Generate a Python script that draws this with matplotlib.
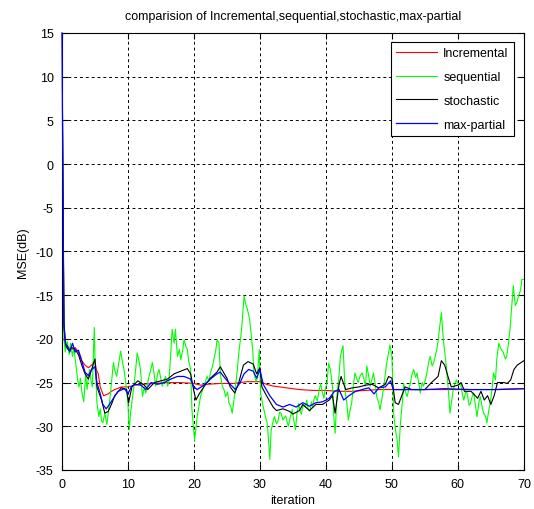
import numpy as np
import matplotlib.pyplot as plt

plt.rcParams['font.family'] = ['Liberation Sans', 'DejaVu Sans']
plt.rcParams['axes.unicode_minus'] = False

# Incremental (red)
inc_x = [0, 0.15, 0.3, 0.5, 1, 1.5, 2, 2.5, 3, 3.5, 4, 4.5, 5, 5.2, 5.5, 5.8, 6.3, 7, 7.5, 8, 9, 10,
         11, 12, 14, 16, 18, 20, 21, 22, 24, 26, 28, 30, 31, 32, 34, 36, 38, 40, 42, 44, 46, 48, 50,
         55, 60, 65, 70]
inc_y = [15, -3, -19, -20.5, -21, -21.2, -21, -21.5, -22.5, -23, -23.3, -23, -22.5, -23.5, -24, -25.5,
         -26.5, -26.3, -26, -25.8, -25.5, -25.5, -25.3, -25.2, -25.1, -25.0, -25.0, -25.1, -25.3, -25.2,
         -25.1, -25.1, -24.9, -24.9, -25.2, -25.4, -25.6, -25.8, -25.9, -25.9, -26.0, -26.0, -25.9,
         -25.8, -25.8, -25.8, -25.8, -25.8, -25.7]

# sequential (green)
seq_x = [0, 0.15, 0.3, 0.5, 0.65, 0.8, 1.1, 1.3, 1.6, 1.8, 2.0, 2.2, 2.4, 2.6, 2.8, 3.0, 3.3, 3.6, 3.8,
         4.0, 4.2, 4.4, 4.6, 4.9, 5.0, 5.3, 5.6, 5.8, 6.0, 6.2, 6.5, 6.8, 7.0, 7.3, 7.8, 8.0, 8.3, 8.6,
         8.9, 9.2, 9.4, 9.8, 10.0, 10.2, 10.4, 10.9, 11.2, 11.4, 11.7, 11.9, 12.2, 12.5, 12.7, 13.0,
         13.2, 13.5, 13.7, 14.0, 14.2, 14.5, 14.7, 15.0, 15.2, 15.5, 15.7, 16.0, 16.2, 16.5, 16.7,
         17.0, 17.2, 17.5, 17.8, 18.0, 18.3, 18.5, 18.8, 19.0, 19.2, 19.5, 19.7, 20.1, 20.3, 20.5, 21.0,
         21.5, 22.0, 22.3, 22.5, 22.8, 23.0, 23.3, 23.5, 23.8, 24.0, 24.3, 24.6, 24.8, 25.1, 25.3, 25.6,
         25.8, 26.1, 26.3, 26.6, 26.8, 27.1, 27.3, 27.6, 27.9, 28.1, 28.4, 28.6, 28.9, 29.1, 29.4, 29.6,
         29.9, 30.1, 30.4, 30.6, 30.9, 31.1, 31.3, 31.5, 31.7, 32.0, 32.2, 32.5, 32.7, 33.0, 33.2, 33.5,
         33.9, 34.1, 34.3, 34.6, 34.9, 35.1, 35.4, 35.6, 35.9, 36.1, 36.3, 36.5, 36.9, 37.1, 37.3, 37.6,
         37.8, 38.0, 38.2, 38.4, 38.7, 38.9, 39.2, 39.4, 39.7, 39.9, 40.2, 40.4, 40.7, 41.0, 41.2, 41.4,
         41.7, 42.0, 42.2, 42.4, 42.6, 42.9, 43.2, 43.4, 43.7, 43.9, 44.2, 44.4, 44.7, 44.9, 45.2, 45.5,
         45.8, 46.0, 46.2, 46.5, 46.7, 47.0, 47.2, 47.5, 47.7, 48.0, 48.2, 48.5, 48.7, 49.0, 49.2, 49.5,
         49.7, 50.0, 50.3, 50.6, 50.8, 51.0, 51.3, 51.6, 51.8, 52.0, 52.3, 52.6, 52.8, 53.0, 53.3, 53.6,
         53.8, 54.1, 54.3, 54.6, 54.8, 55.1, 55.3, 55.6, 55.8, 56.1, 56.3, 56.6, 56.8, 57.0, 57.2, 57.5,
         57.8, 58.0, 58.3, 58.6, 58.8, 59.1, 59.3, 59.6, 59.8, 60.1, 60.4, 60.7, 60.9, 61.2, 61.4, 61.7,
         61.9, 62.2, 62.4, 62.7, 62.9, 63.2, 63.4, 63.7, 63.9, 64.2, 64.4, 64.7, 64.9, 65.2, 65.4, 65.7,
         65.9, 66.2, 66.5, 66.9, 67.2, 67.4, 67.7, 67.9, 68.2, 68.4, 68.7, 69.0, 69.2, 69.5, 69.7, 70.0]
seq_y = [15, -2.7, -20, -21.5, -20.8, -20.3, -21.8, -20.5, -22, -21, -22.2, -23.5, -24.8, -25.5, -24.5,
         -26, -27.2, -24, -25.8, -24.5, -23.5, -24.8, -25.5, -18.7, -22, -27.3, -28.9, -28, -29.4,
         -29.6, -28.5, -29.8, -28.6, -26.6, -22.7, -23.6, -24.3, -22.8, -21.4, -22.8, -23.5, -25.8,
         -27.5, -30.4, -28.5, -25.4, -23.3, -21.6, -22.6, -23.5, -26.6, -25.5, -26.2, -25.0, -24.3,
         -23.4, -22.7, -24.2, -25.4, -24.0, -23.5, -24.6, -25.4, -24.8, -24.3, -25.4, -25, -21.5,
         -18.9, -20.5, -18.9, -22, -21.2, -22.4, -21.3, -20.1, -20.9, -21.2, -22.5, -23.5, -28.1,
         -31.6, -30.2, -28.9, -26.6, -25.4, -24.3, -24.9, -23.9, -23.2, -22.4, -21.4, -20.1, -20.5,
         -24, -25.4, -25.9, -26.6, -26.1, -27.3, -27.8, -28.5, -26.8, -25.4, -23.4, -21.6, -19.8,
         -18.2, -15.1, -16.2, -16.6, -17.6, -18.9, -21.2, -23.9, -24.9, -24.5, -21.2, -26.2, -27.4,
         -28.1, -29.1, -29.6, -31.5, -33.8, -30.5, -29.4, -28.9, -29.7, -29.5, -28.4, -28.5, -29.3,
         -28.8, -29.4, -30, -29.0, -28.1, -29.2, -30.4, -28.6, -27.4, -28.3, -28.6, -27.6, -27.8, -27,
         -28.0, -28.3, -27.2, -27.8, -26.9, -26.5, -27.1, -26.2, -25.1, -25.9, -26.8, -25.8, -24.9,
         -22.8, -23.6, -25.5, -28.9, -30.8, -26.2, -24.1, -22, -21.3, -20.8, -25.8, -27.6, -29.3, -28.0,
         -27.4, -25.1, -23.9, -24.6, -25, -24.2, -23.9, -24.7, -25.4, -23.1, -24.3, -25.4, -24.6,
         -23.9, -25.3, -26.6, -27.3, -28.1, -26.8, -25.8, -24.1, -22.8, -21.6, -20.7, -22, -28.9, -30.7,
         -31.6, -33.5, -29.6, -27.1, -25.1, -25.9, -26.6, -25.7, -25.1, -24.2, -23.5, -24.4, -23.9,
         -25.2, -26.2, -25.0, -25.4, -24.6, -23.9, -22.6, -22, -23.1, -22.8, -21.9, -21.2, -20.3, -18.9,
         -17, -20.1, -21.4, -23.5, -26.3, -28.5, -26.9, -25.8, -25.0, -24.7, -25.3, -25.1, -26.4, -27,
         -26.0, -26.2, -27.6, -27.4, -26.5, -26.2, -27.8, -28.9, -27.2, -26.6, -27.9, -28.5, -28.9,
         -29.6, -28.1, -27.4, -25.6, -23.9, -24.7, -22.3, -20.5, -21.1, -21.6, -22.3, -22, -20.3, -18.9,
         -15.9, -13.9, -16.2, -15.7, -15.1, -14.4, -13.2, -13.2]

# stochastic (black)
sto_x = [0, 0.15, 0.3, 0.6, 1, 1.5, 2, 2.5, 3, 3.5, 4, 4.5, 5, 5.3, 6, 6.5, 7, 7.5, 8, 9, 9.8, 10.1,
         10.6, 11.5, 12.5, 13, 14, 15, 16, 17, 18, 19, 19.5, 20, 20.3, 20.8, 21.5, 22.5, 23.5, 24, 25,
         25.5, 26.2, 26.8, 27.5, 28.2, 29, 29.5, 30, 30.3, 31, 32, 32.5, 33.5, 34.5, 35, 36, 36.5, 37.5,
         38.5, 39.5, 40.5, 41, 41.4, 42, 42.3, 43, 44, 45, 46, 47, 48, 49, 49.5, 50, 50.5, 51, 52, 53,
         55, 56, 57, 57.5, 58, 58.5, 59, 60, 60.5, 61, 62, 63, 63.5, 64, 64.5, 65, 65.5, 66, 67, 67.5,
         68, 68.5, 69, 70]
sto_y = [15, -3, -18.5, -20.8, -21.3, -21, -21.2, -21.8, -23, -24, -24.6, -23.5, -22.3, -25.5, -27,
         -28.5, -28.3, -27.5, -26.5, -25.6, -25.8, -27.3, -25.5, -24.8, -25.3, -25.8, -25, -24.8, -24.6,
         -24, -23.7, -23.4, -24, -26, -27, -26.3, -25.5, -24.5, -23.8, -23.2, -24.5, -25.5, -26.2, -25,
         -23, -22.6, -22.9, -24, -23.3, -25.5, -26.5, -27.8, -28.2, -28, -28.3, -28.6, -28.2, -27.5,
         -28.2, -27.5, -27.5, -27, -26.5, -28.5, -25.2, -24.3, -25.8, -25.6, -25.5, -25.3, -25.2,
         -25.6, -25.2, -24.3, -24.5, -27.3, -27.5, -25.5, -25.8, -25.8, -25, -24.3, -22.5, -23, -24.3,
         -25.5, -25.3, -25, -26, -26, -26.8, -26, -27, -26.5, -27.5, -26.5, -25, -25, -25.1, -24.7,
         -23.5, -23, -22.5]

# max-partial (blue)
mp_x = [0, 0.15, 0.3, 0.5, 0.8, 1.2, 1.6, 2, 2.5, 3, 3.5, 4, 4.5, 5, 5.3, 5.7, 6.2, 6.7, 7.2, 7.8, 8.5,
        9.5, 10, 10.5, 11, 12, 12.7, 13.5, 14.5, 15.5, 16.5, 17.5, 18.5, 19.5, 20, 20.5, 21.5, 22.5,
        23.5, 24, 24.5, 25.5, 26.3, 27, 27.6, 28.3, 29, 29.5, 30, 30.5, 31.5, 32.5, 33.5, 34.5, 35.5,
        36.5, 37.5, 38.5, 39.5, 40.5, 41.3, 42, 42.7, 43.5, 44.5, 45.5, 46.5, 47.3, 48, 49, 49.8, 50.2,
        52, 55, 58, 62, 66, 70]
mp_y = [15, -3, -18, -20.5, -20.8, -21.5, -20.5, -21.5, -21.3, -22.5, -23.8, -24.2, -23.5, -23.2, -25,
        -26, -27.5, -28, -27.5, -26.8, -26, -25.7, -26.3, -25.5, -25.2, -25.3, -25.8, -25, -25.2, -25,
        -24.6, -24.3, -24.3, -24.6, -25.5, -25.8, -25.3, -24.6, -24, -23.8, -24.3, -25.2, -25.8, -25,
        -24, -23.5, -23.7, -24.5, -23.5, -25.2, -26.5, -27.5, -27.8, -27.5, -27.8, -27.3, -27.7, -27.3,
        -27.2, -26.8, -26.0, -25.8, -27.0, -26.5, -26.0, -25.8, -25.6, -26.3, -25.6, -25.5, -24.8,
        -25.8, -25.8, -25.8, -25.7, -25.8, -25.8, -25.7]

xticks = [0, 10, 20, 30, 40, 50, 60, 70]
yticks = [-35, -30, -25, -20, -15, -10, -5, 0, 5, 10, 15]

fig = plt.figure(figsize=(5.34, 5.10), dpi=100)
ax = fig.add_axes([0.116, 0.0765, 0.865, 0.857])

ax.plot(inc_x, inc_y, color='red', lw=0.8, label='Incremental')
ax.plot(seq_x, seq_y, color='#00ff00', lw=0.8, label='sequential')
ax.plot(sto_x, sto_y, color='black', lw=0.8, label='stochastic')
ax.plot(mp_x, mp_y, color='blue', lw=0.9, label='max-partial', zorder=3, clip_on=False)

ax.set_xlim(0, 70)
ax.set_ylim(-35, 15)
ax.set_xticks(xticks)
ax.set_yticks(yticks)
ax.tick_params(direction='in', top=True, right=True, labelsize=9, length=4, pad=6)
ax.grid(True, color='black', linestyle=(0, (3, 3)), linewidth=0.7)

ax.set_title('comparision of Incremental,sequential,stochastic,max-partial', fontsize=9, pad=10)
ax.set_xlabel('iteration', fontsize=9, labelpad=3)
ax.set_ylabel('MSE(dB)', fontsize=9, labelpad=5)

leg = ax.legend(loc='upper right', bbox_to_anchor=(0.978, 0.979), fontsize=9, fancybox=False,
                edgecolor='black', framealpha=1, handlelength=3.3, handletextpad=0.5,
                labelspacing=0.95, borderaxespad=0)
leg.get_frame().set_linewidth(0.8)
leg.set_zorder(5)

fig.savefig('out.png', dpi=100)
